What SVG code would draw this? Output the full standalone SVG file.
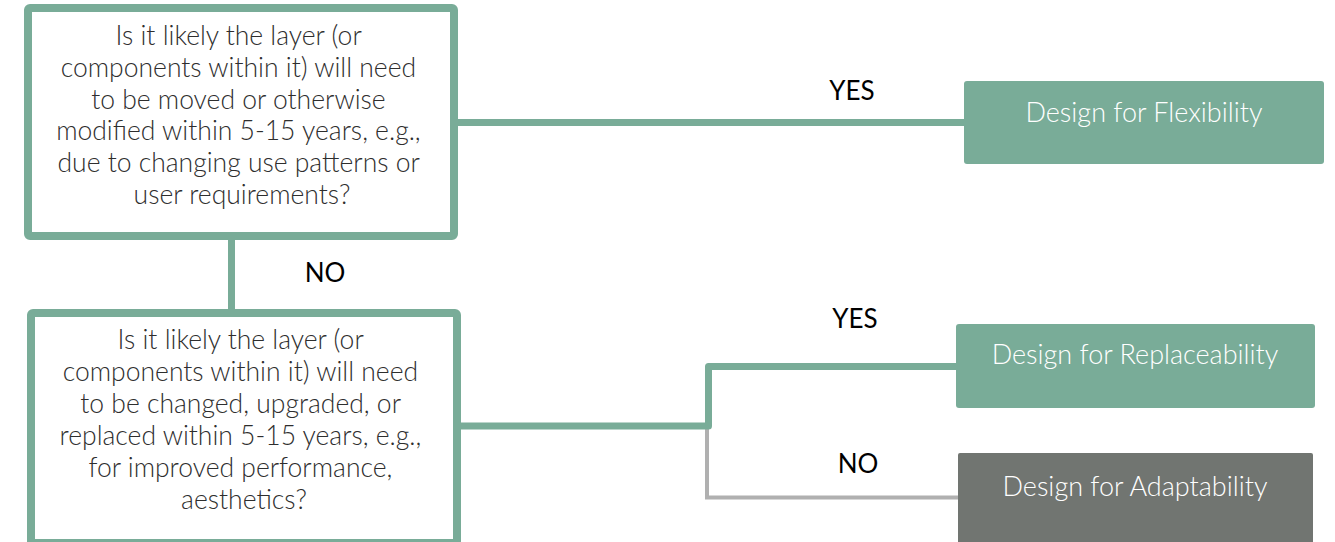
<svg xmlns="http://www.w3.org/2000/svg" width="1335" height="542" viewBox="0 0 1335 542">
  <style>
    .q { fill: #ffffff; stroke: #79ac98; stroke-width: 8; }
    .qt { font-family: Lato, "Open Sans", sans-serif; font-weight: 300; font-size: 26.5px; fill: #2e2e2e; text-anchor: middle; }
    .out { stroke: none; }
    .ot { font-family: Lato, "Open Sans", sans-serif; font-weight: 300; font-size: 27px; fill: #ffffff; text-anchor: middle; }
    .lbl { font-family: Lato, "Open Sans", sans-serif; font-weight: 400; font-size: 26px; fill: #000000; text-anchor: middle; }
    .ln { fill: none; stroke: #79ac98; stroke-width: 7; stroke-linejoin: round; }
    .ln-grey { fill: none; stroke: #b0b0b0; stroke-width: 4; }
  </style>

  <!-- connectors -->
  <g id="connectors">
    <path class="ln" d="M458 122.5 H966"/>
    <path class="ln" d="M231.5 240 V310"/>
    <path class="ln-grey" d="M707 428 V497.5 H959"/>
    <path class="ln" d="M461 426 H708.5 V366.5 H957"/>
    <text class="lbl" x="852" y="100">YES</text>
    <text class="lbl" x="325" y="282">NO</text>
    <text class="lbl" x="855" y="328">YES</text>
    <text class="lbl" x="858" y="473">NO</text>
  </g>

  <!-- question 1 -->
  <g id="q1">
    <rect class="q" x="28" y="8" width="426" height="228" rx="2"/>
    <text class="qt">
      <tspan x="242" y="45">Is it likely the layer (or</tspan>
      <tspan x="242" y="77">components within it) will need</tspan>
      <tspan x="242" y="109">to be moved or otherwise</tspan>
      <tspan x="242" y="140">modified within 5-15 years, e.g.,</tspan>
      <tspan x="242" y="172">due to changing use patterns or</tspan>
      <tspan x="242" y="204">user requirements?</tspan>
    </text>
  </g>

  <!-- question 2 -->
  <g id="q2">
    <rect class="q" x="31" y="313" width="426" height="230" rx="2"/>
    <text class="qt">
      <tspan x="244" y="349">Is it likely the layer (or</tspan>
      <tspan x="244" y="381">components within it) will need</tspan>
      <tspan x="244" y="413">to be changed, upgraded, or</tspan>
      <tspan x="244" y="445">replaced within 5-15 years, e.g.,</tspan>
      <tspan x="244" y="477">for improved performance,</tspan>
      <tspan x="244" y="509">aesthetics?</tspan>
    </text>
  </g>

  <!-- outcomes -->
  <g id="flexibility">
    <rect class="out" x="964" y="81" width="360" height="83" rx="3" fill="#79ac98"/>
    <text class="ot" x="1144" y="122">Design for Flexibility</text>
  </g>
  <g id="replaceability">
    <rect class="out" x="956" y="324" width="359" height="84" rx="3" fill="#79ac98"/>
    <text class="ot" x="1135" y="364">Design for Replaceability</text>
  </g>
  <g id="adaptability">
    <rect class="out" x="958" y="453" width="355" height="92" rx="2" fill="#717571"/>
    <text class="ot" x="1135" y="496">Design for Adaptability</text>
  </g>
</svg>
